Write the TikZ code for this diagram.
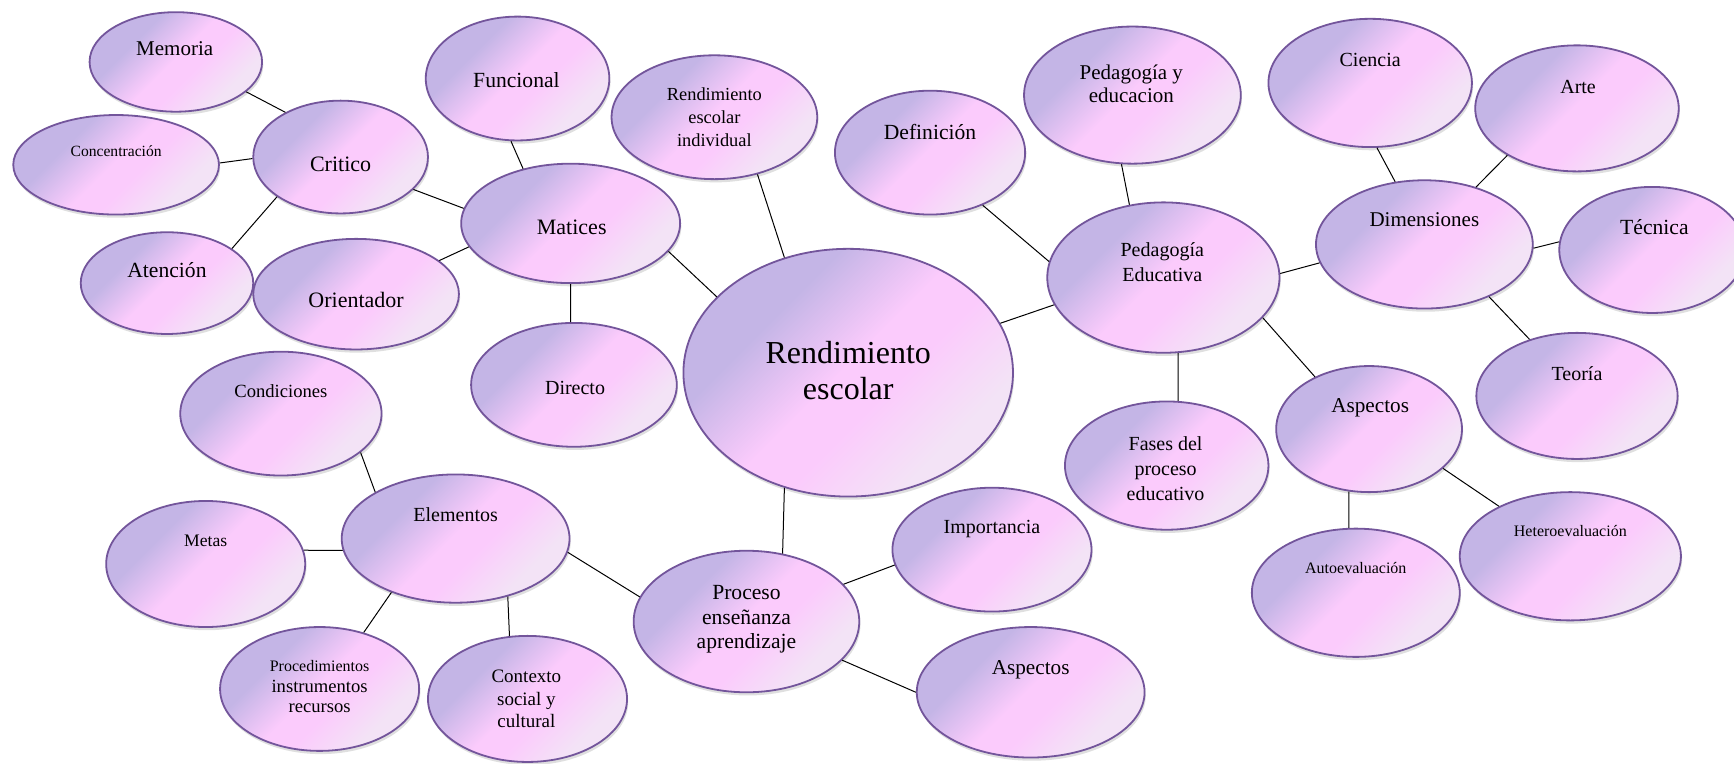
\documentclass[tikz,border=0pt]{standalone}
\usepackage{fontspec}
\setmainfont{Liberation Serif}
\usetikzlibrary{shapes.geometric,shadows}
\definecolor{lav}{RGB}{196,181,230}
\definecolor{pnk}{RGB}{251,203,252}
\definecolor{lite}{RGB}{243,227,246}
\definecolor{bord}{RGB}{115,85,155}
\pgfdeclareverticalshading{bubshade}{100bp}{color(0bp)=(lite); color(29bp)=(lite); color(43bp)=(pnk); color(51bp)=(pnk); color(66bp)=(lav); color(100bp)=(lav)}
\newcommand\fsz[2]{\fontsize{#1pt}{#2pt}\selectfont}
\tikzset{
  bub/.style 2 args={ellipse, draw=bord, line width=0.9pt,
    shade, shading=bubshade, shading angle=45,
    minimum width=#1*1.1058pt, minimum height=#2*1.1058pt, inner sep=0pt,
    drop shadow={shadow xshift=0.6pt, shadow yshift=-1.6pt, opacity=0.25}},
  one/.style={inner sep=0pt, anchor=mid, text=black},
  multi/.style={inner sep=0pt, anchor=center, align=center, text=black},
  link/.style={draw=black, line width=0.5pt},
}
\begin{document}
\begin{tikzpicture}[x=0.5529pt,y=-0.5529pt]
\fill[white] (0,0) rectangle (1568,690);
\useasboundingbox (0,0) rectangle (1568,690);

% bubbles
\node[bub={78}{45}] (mem) at (159,56) {};
\node[bub={93}{45}] (conc) at (105,149) {};
\node[bub={79}{51}] (crit) at (308,142) {};
\node[bub={78}{46}] (aten) at (151,256) {};
\node[bub={93}{50}] (orie) at (322,266) {};
\node[bub={83}{56}] (func) at (468,71) {};
\node[bub={99}{54}] (mat) at (516,202) {};
\node[bub={93}{56}] (dir) at (519,348) {};
\node[bub={93}{56}] (rei) at (646,106) {};
\node[bub={86}{56}] (def) at (841,138) {};
\node[bub={149}{112}] (re) at (767,337) {};
\node[bub={98}{62}] (pye) at (1024,86) {};
\node[bub={92}{58}] (cie) at (1239,75) {};
\node[bub={92}{57}] (arte) at (1426,98) {};
\node[bub={98}{58}] (dim) at (1288,221) {};
\node[bub={84}{57}] (tec) at (1494,226) {};
\node[bub={105}{68}] (pe) at (1052,251) {};
\node[bub={91}{57}] (teo) at (1426,358) {};
\node[bub={92}{58}] (fas) at (1055,421) {};
\node[bub={84}{57}] (aspa) at (1238,388) {};
\node[bub={94}{58}] (auto) at (1226,536) {};
\node[bub={100}{58}] (het) at (1420,503) {};
\node[bub={90}{56}] (imp) at (897,497) {};
\node[bub={103}{59}] (aspb) at (932,626) {};
\node[bub={102}{64}] (proc) at (675,562) {};
\node[bub={91}{56}] (cond) at (254,374) {};
\node[bub={103}{58}] (elem) at (412,487) {};
\node[bub={90}{57}] (metas) at (186,510) {};
\node[bub={90}{56}] (pir) at (289,623) {};
\node[bub={90}{57}] (ctx) at (477,632) {};

% texts
\node[one, font=\fsz{10.5}{12}] (t-mem) at (158,46) {Memoria};
\node[one, font=\fsz{7.8}{9}] (t-conc) at (105,137) {Concentración};
\node[one, font=\fsz{11}{13}] (t-crit) at (308,151) {Critico};
\node[one, font=\fsz{10.8}{13}] (t-aten) at (151,247) {Atención};
\node[one, font=\fsz{11}{13}] (t-orie) at (322,274) {Orientador};
\node[one, font=\fsz{10.8}{13}] (t-func) at (467,75) {Funcional};
\node[one, font=\fsz{11}{13}] (t-mat) at (517,208) {Matices};
\node[one, font=\fsz{10}{12}] (t-dir) at (520,353) {Directo};
\node[multi, font=\fsz{9.2}{11.7}] (t-rei) at (646,106) {Rendimiento\\escolar\\individual};
\node[one, font=\fsz{10.8}{13}] (t-def) at (841,122) {Definición};
\node[multi, font=\fsz{16}{18.3}] (t-re) at (767,335) {Rendimiento\\escolar};
\node[multi, font=\fsz{10.5}{11.7}] (t-pye) at (1023,76) {Pedagogía y\\educacion};
\node[one, font=\fsz{10}{12}] (t-cie) at (1239,56) {Ciencia};
\node[one, font=\fsz{10}{12}] (t-arte) at (1427,80) {Arte};
\node[one, font=\fsz{10.5}{12}] (t-dim) at (1288,201) {Dimensiones};
\node[one, font=\fsz{10.8}{13}] (t-tec) at (1496,208) {Técnica};
\node[multi, font=\fsz{10}{12.5}] (t-pe) at (1051,237) {Pedagogía\\Educativa};
\node[one, font=\fsz{10}{12}] (t-teo) at (1426,340) {Teoría};
\node[multi, font=\fsz{10}{12.5}] (t-fas) at (1054,424) {Fases del\\proceso\\educativo};
\node[one, font=\fsz{10.6}{12}] (t-aspa) at (1239,369) {Aspectos};
\node[one, font=\fsz{8}{10}] (t-auto) at (1226,514) {Autoevaluación};
\node[one, font=\fsz{8}{10}] (t-het) at (1420,481) {Heteroevaluación};
\node[one, font=\fsz{10}{12}] (t-imp) at (897,478) {Importancia};
\node[one, font=\fsz{10.6}{12}] (t-aspb) at (932,606) {Aspectos};
\node[multi, font=\fsz{10.8}{12.2}] (t-proc) at (675,560) {Proceso\\enseñanza\\aprendizaje};
\node[one, font=\fsz{9.3}{11}] (t-cond) at (254,355) {Condiciones};
\node[one, font=\fsz{10}{12}] (t-elem) at (412,467) {Elementos};
\node[one, font=\fsz{8.8}{10}] (t-metas) at (186,490) {Metas};
\node[multi, font=\fsz{9.3}{10.3}] (t-pir) at (289,621) {{\fsz{8}{10.3}Procedimientos}\\instrumentos\\recursos};
\node[multi, font=\fsz{9.5}{11.3}] (t-ctx) at (476,632) {Contexto\\social y\\cultural};

% connectors
\draw[link] (mem.-23.5) -- (crit.141.3);
\draw[link] (conc.1.2) -- (crit.181.4);
\draw[link] (crit.-148) -- (aten.28.1);
\draw[link] (crit.-24.5) -- (mat.172.9);
\draw[link] (orie.22.7) -- (mat.193.7);
\draw[link] (func.-96.1) -- (mat.131.3);
\draw[link] (mat.-90) -- (dir.93);
\draw[link] (rei.-53.1) -- (re.119.3);
\draw[link] (mat.-16.5) -- (re.150.8);
\draw[link] (def.-45.6) -- (pe.172.9);
\draw[link] (re.18.9) -- (pe.194.5);
\draw[link] (re.-119.5) -- (proc.62.3);
\draw[link] (pye.-99.9) -- (pe.115.2);
\draw[link] (cie.-84.1) -- (dim.115);
\draw[link] (arte.-146.3) -- (dim.48.4);
\draw[link] (pe.2.2) -- (dim.190.8);
\draw[link] (dim.-2.3) -- (tec.175.2);
\draw[link] (dim.-39.6) -- (teo.130.4);
\draw[link] (pe.-22.7) -- (aspa.136.8);
\draw[link] (pe.-79.5) -- (fas.80.4);
\draw[link] (aspa.-108.7) -- (auto.96.9);
\draw[link] (aspa.-28.6) -- (het.145.9);
\draw[link] (proc.21.4) -- (imp.189.6);
\draw[link] (proc.-22.1) -- (aspb.180);
\draw[link] (elem.-7.1) -- (proc.167.8);
\draw[link] (cond.-26.2) -- (elem.150.8);
\draw[link] (metas.8.5) -- (elem.186.1);
\draw[link] (elem.-140.8) -- (pir.52.4);
\draw[link] (elem.-48.3) -- (ctx.106.2);
\end{tikzpicture}
\end{document}
